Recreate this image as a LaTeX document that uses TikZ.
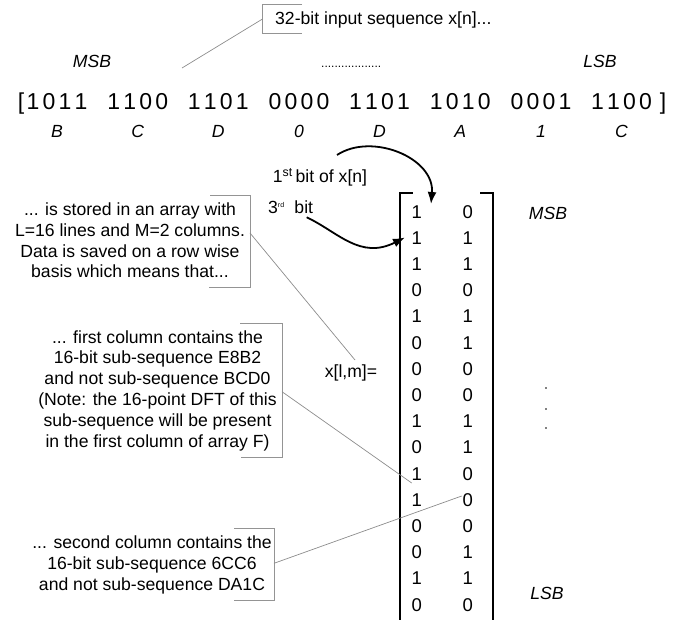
\documentclass[tikz,border=0pt]{standalone}
\usepackage{fontspec}
\setmainfont{Liberation Sans}
\usetikzlibrary{arrows.meta}
\begin{document}
\begin{tikzpicture}[x=1pt,y=-1pt,
  txt/.style={font=\fontsize{17.6}{20.8}\selectfont, inner sep=0pt, align=center},
  seqchar/.style={font=\fontsize{23}{26}\selectfont, inner sep=0pt, anchor=base},
  hexlabel/.style={font=\fontsize{17.6}{20}\selectfont\itshape, inner sep=0pt},
  bit/.style={font=\fontsize{18.5}{20}\selectfont, inner sep=0pt},
  callout/.style={draw=black!42, line width=0.8pt},
  leader/.style={draw=black!45, line width=0.7pt},
  bendarrow/.style={line width=1.8pt, -{Latex[length=12pt,width=9pt]}},
  bracketline/.style={line width=1.8pt}
]
\useasboundingbox (0,0) rectangle (681,620);

% ---- heading callout ----
\node[txt, anchor=base west] (title) at (275,25) {32-bit input sequence x[n]...};
\draw[callout] (302,4) -- (262.5,4) -- (262.5,33) -- (302,33);
\coordinate (title-lead) at (262.5,19);
\coordinate (title-end) at (182,68);
\draw[leader] (title-lead) -- (title-end);

% ---- MSB / LSB over the sequence ----
\node[hexlabel, anchor=base] (msb-top) at (92,68) {MSB};
\node[hexlabel, anchor=base] (lsb-top) at (600,68) {LSB};
\node[font=\fontsize{12}{14}\selectfont, inner sep=0pt, anchor=base west] (dots-top) at (321,68) {..................};

% ---- the 32-bit sequence ----
\node[seqchar] (lbr) at (21,109.5) {[};
\node[seqchar] (rbr) at (663,109.5) {]};
\foreach \k/\a/\b/\c/\d/\h in {0/1/0/1/1/B, 1/1/1/0/0/C, 2/1/1/0/1/D, 3/0/0/0/0/0,
                               4/1/1/0/1/D, 5/1/0/1/0/A, 6/0/0/0/1/1, 7/1/1/0/0/C}{
  \pgfmathsetmacro{\gx}{57+80.65*\k}
  \node[seqchar] (s\k-1) at (\gx-24,109.5) {\a};
  \node[seqchar] (s\k-2) at (\gx-8,109.5) {\b};
  \node[seqchar] (s\k-3) at (\gx+8,109.5) {\c};
  \node[seqchar] (s\k-4) at (\gx+24,109.5) {\d};
  \node[hexlabel] (hex\k) at (\gx,131) {\h};
}

% ---- the 16 x 2 array ----
\draw[bracketline] (412.7,193) -- (400,193) -- (400,621);
\draw[bracketline] (480,193) -- (492.7,193) -- (492.7,621);
\foreach \r/\a/\b in {1/1/0, 2/1/1, 3/1/1, 4/0/0, 5/1/1, 6/0/1, 7/0/0, 8/0/0,
                      9/1/1, 10/0/1, 11/1/0, 12/1/0, 13/0/0, 14/0/1, 15/1/1, 16/0/0}{
  \pgfmathsetmacro{\ry}{211.7+26.2*(\r-1)}
  \node[bit] (m\r-1) at (416.7,\ry) {\a};
  \node[bit] (m\r-2) at (467.7,\ry) {\b};
}
\node[txt] (xlm) at (351,373) {x[l,m]=};
\node[hexlabel] (msb-side) at (548,213) {MSB};
\node[hexlabel] (lsb-side) at (547,593) {LSB};
\foreach \i/\yy in {1/388, 2/409, 3/428}
  \fill (546,\yy) circle[radius=0.9];

% ---- curved arrows onto the first bits ----
\node[txt, anchor=base west] (first-bit) at (272.7,182.5) {1\textsuperscript{st}\,bit of x[n]};
\node[txt, anchor=base west] (third-bit) at (268,213.5) {3\textsuperscript{\scriptsize rd}\ \ bit};
\coordinate (a1-start) at (337,155);
\coordinate (a1-tip) at (431,204);
\coordinate (a2-start) at (306.7,217.3);
\coordinate (a2-tip) at (405,237.5);
\draw[bendarrow] (a1-start) .. controls (372,132) and (435,158) .. (a1-tip);
\draw[bendarrow] (a2-start) .. controls (338,232) and (360,260) .. (a2-tip);

% ---- explanatory callouts ----
\node[txt] (note-store) at (130,240.5)
  {... is stored in an array with\\L=16 lines and M=2 columns.\\Data is saved on a row wise\\basis which means that...};
\draw[callout] (210,195) -- (250,195) -- (250,287) -- (209,287);
\coordinate (store-lead) at (250,233);
\coordinate (store-end) at (355,360);
\draw[leader] (store-lead) -- (store-end);

\node[txt] (note-col1) at (157.5,390.5)
  {... first column contains the\\16-bit sub-sequence E8B2\\and not sub-sequence BCD0\\(Note: the 16-point DFT of this\\sub-sequence will be present\\in the first column of array F)};
\draw[callout] (240,323) -- (282,323) -- (282,457.7) -- (240.7,457.7);
\coordinate (col1-lead) at (282,391.7);
\coordinate (col1-end) at (411.7,483);
\draw[leader] (col1-lead) -- (col1-end);

\node[txt] (note-col2) at (152,565)
  {... second column contains the\\16-bit sub-sequence 6CC6\\and not sub-sequence DA1C};
\draw[callout] (234,528.3) -- (274,528.3) -- (274,600) -- (234,600);
\coordinate (col2-lead) at (274,563.3);
\coordinate (col2-end) at (461.7,496);
\draw[leader] (col2-lead) -- (col2-end);
\end{tikzpicture}
\end{document}
